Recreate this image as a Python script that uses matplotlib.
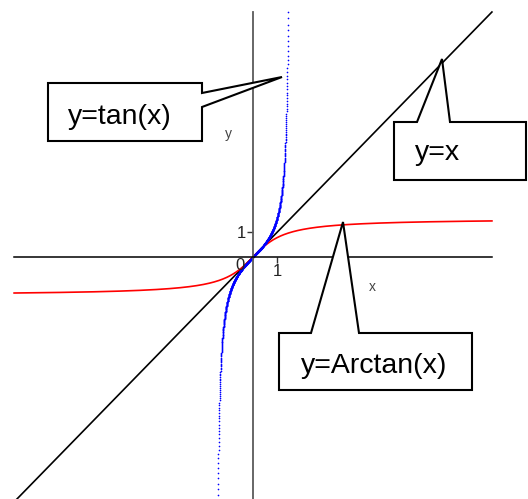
"""y = tan(x), y = x and y = Arctan(x) on one set of axes, with callout labels."""

import numpy as np
import matplotlib.pyplot as plt
from matplotlib.patches import Polygon

plt.rcParams["font.family"] = ["Liberation Sans", "DejaVu Sans"]

# plotting window of the functions
x_range = (-10, 10)
y_range = (-10, 10)
tan_points = 1100

# callout texts
label_tan = "y=tan(x)"
label_identity = "y=x"
label_arctan = "y=Arctan(x)"

x_all = np.linspace(x_range[0], x_range[1], 801)
x_tan = np.linspace(-np.arctan(y_range[1]), np.arctan(y_range[1]), tan_points)

W, H = 528, 499
fig = plt.figure(figsize=(W / 100, H / 100), dpi=100)
ax = fig.add_axes([0, 0, 1, 1])
ax.set_xlim(-10.59, 11.51)
ax.set_ylim(-9.88, 10.49)

# axes through the origin
for side in ("top", "right"):
    ax.spines[side].set_visible(False)
ax.spines["bottom"].set_position(("data", 0))
ax.spines["left"].set_position(("data", 0))
ax.spines["bottom"].set_bounds(*x_range)
ax.spines["left"].set_bounds(*y_range)
ax.spines["bottom"].set_color("black")
ax.spines["left"].set_color("#5a5a5a")
ax.spines["bottom"].set_linewidth(1.1)
ax.spines["left"].set_linewidth(1.3)
ax.set_xticks([1])
ax.set_yticks([1])
ax.tick_params(axis="both", direction="out", length=4, width=1,
               labelsize=12, labelcolor="#222222", color="#333333", pad=1)
ax.text(-0.55, -0.05, "0", fontsize=12, color="#222222", ha="center", va="top")
ax.text(5, -1.22, "x", fontsize=10, color="#444444", ha="center", va="center")
ax.text(-1.05, 5, "y", fontsize=10, color="#444444", ha="center", va="center")

# curves
ax.plot(x_all, x_all, color="black", lw=1.2)
ax.plot(x_all, np.arctan(x_all), color="red", lw=1.2)
ax.plot(x_tan, np.tan(x_tan), ls="none", marker="o", ms=1.2, mec="none", color="#0000ff")

# callouts, placed in figure pixels
def px(points):
    return [(x / W, 1 - y / H) for x, y in points]

callouts = [
    (label_tan, [(48, 83), (202, 83), (202, 93), (282, 77), (202, 107), (202, 141), (48, 141)], (120, 117)),
    (label_identity, [(394, 122), (417, 122), (442, 59), (450, 122), (526, 122), (526, 180), (394, 180)], (438, 153)),
    (label_arctan, [(279, 333), (311, 333), (343, 222), (359, 333), (472, 333), (472, 390), (279, 390)], (374, 366)),
]
for text, outline, (tx, ty) in callouts:
    fig.add_artist(Polygon(px(outline), closed=True, facecolor="white",
                           edgecolor="black", lw=1.5, transform=fig.transFigure))
    fig.text(tx / W, 1 - ty / H, text, fontsize=20.5, ha="center", va="center")

fig.savefig("out.png", dpi=100)
